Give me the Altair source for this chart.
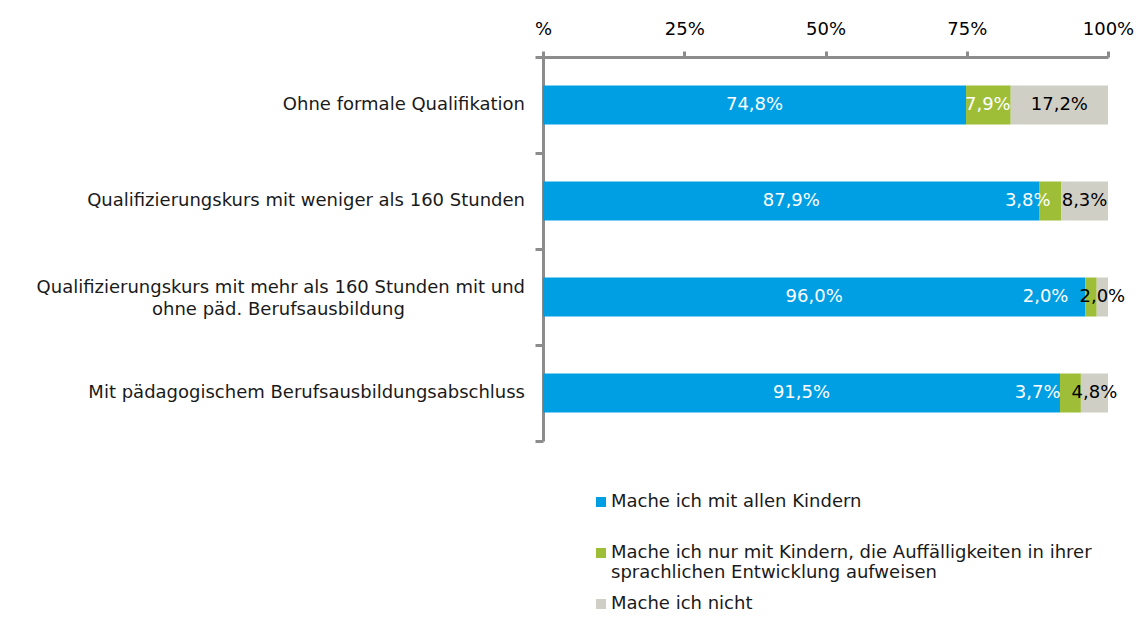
import json
import altair as alt
import pandas as pd

categories = [
    "Ohne formale Qualifikation",
    "Qualifizierungskurs mit weniger als 160 Stunden",
    "Qualifizierungskurs mit mehr  als 160 Stunden mit und|ohne päd. Berufsausbildung",
    "Mit pädagogischem Berufsausbildungsabschluss",
]
series = [
    "Mache ich mit allen Kindern",
    "Mache ich nur mit Kindern, die Auffälligkeiten in ihrer|sprachlichen Entwicklung aufweisen",
    "Mache ich nicht",
]
values_all = [74.8, 87.9, 96.0, 91.5]
values_some = [7.9, 3.8, 2.0, 3.7]
values_not = [17.2, 8.3, 2.0, 4.8]
colors = ["#009FE3", "#9DBE36", "#D0CFC6"]
x_tick_values = [0, 0.25, 0.5, 0.75, 1.0]
x_tick_labels = ["%", "25%", "50%", "75%", "100%"]

rows = []
for ci, cat in enumerate(categories):
    for si, vals in enumerate([values_all, values_some, values_not]):
        rows.append({"category": cat, "series": series[si], "order": si, "value": vals[ci]})
df = pd.DataFrame(rows)

FONT = "DejaVu Sans"
FS = 18
AXIS_GRAY = "#8C8C8C"
# non-breaking spaces closed by a zero-width space so they survive trimming:
# keeps the second line of the wrapped label centred under the first
LINE_PAD = "\u00a0" * 21 + "\u200b"

x_label_expr = f"{json.dumps(x_tick_labels)}[indexof({json.dumps(x_tick_values)}, datum.value)]"
legend_label_expr = "indexof(datum.label, '|') < 0 ? [datum.label, ''] : split(datum.label, '|')"

base = alt.Chart(df).transform_stack(
    stack="value",
    groupby=["category"],
    as_=["x0", "x1"],
    offset="normalize",
    sort=[alt.SortField("order", order="ascending")],
).transform_calculate(
    mid="(datum.x0 + datum.x1) / 2",
    green_end="min(datum.x1, (datum.x1 + 1) / 2 - 0.06)",
    lab="replace(format(datum.value, '.1f'), '.', ',') + '%'",
)

y_axis = alt.Axis(
    orient="left",
    tickBand="extent",
    tickSize=8,
    tickWidth=3,
    tickColor=AXIS_GRAY,
    domainColor=AXIS_GRAY,
    domainWidth=3,
    labels=False,
)

y_enc = alt.Y(
    "category:N",
    sort=categories,
    title=None,
    scale=alt.Scale(paddingInner=0, paddingOuter=0),
    axis=y_axis,
)

bars = base.mark_bar(size=39).encode(
    x=alt.X(
        "x0:Q",
        scale=alt.Scale(domain=[0, 1], nice=False, zero=True),
        title=None,
        axis=alt.Axis(
            orient="top",
            values=x_tick_values,
            labelExpr=x_label_expr,
            grid=False,
            tickSize=6,
            tickWidth=3,
            tickColor=AXIS_GRAY,
            domainColor=AXIS_GRAY,
            domainWidth=3,
            labelFont=FONT,
            labelFontSize=FS,
            labelColor="#000000",
            labelPadding=13,
            labelFlush=False,
        ),
    ),
    x2="x1:Q",
    y=y_enc,
    color=alt.Color(
        "series:N",
        sort=series,
        scale=alt.Scale(domain=series, range=colors),
        legend=alt.Legend(
            orient="none",
            legendX=49,
            legendY=436,
            direction="vertical",
            title=None,
            padding=0,
            symbolType="square",
            symbolSize=100,
            symbolStrokeWidth=0,
            labelFont=FONT,
            labelFontSize=FS,
            labelColor="#1a1a1a",
            labelLimit=0,
            labelOffset=1,
            rowPadding=13,
            labelExpr=legend_label_expr,
        ),
    ),
)

# category labels left of the axis
cat_base = base.transform_filter("datum.order == 0").transform_calculate(
    multi="indexof(datum.category, '|') >= 0",
)
cat_single = cat_base.transform_filter("!datum.multi").mark_text(
    font=FONT, fontSize=FS, align="right", baseline="middle", dx=-18, color="#1a1a1a"
).encode(
    x=alt.datum(0),
    y=alt.Y("category:N", sort=categories),
    text="category:N",
)
cat_multi = cat_base.transform_filter("datum.multi").transform_calculate(
    disp=f"datum.category + '{LINE_PAD}'"
).mark_text(
    font=FONT, fontSize=FS, align="right", baseline="line-bottom", lineHeight=22,
    lineBreak="|", dx=-18, dy=2, color="#1a1a1a"
).encode(
    x=alt.datum(0),
    y=alt.Y("category:N", sort=categories),
    text="disp:N",
)

text_center = base.transform_filter("datum.order != 1").mark_text(
    font=FONT, fontSize=FS, align="center", baseline="middle"
).encode(
    x="mid:Q",
    y=alt.Y("category:N", sort=categories),
    text="lab:N",
    color=alt.condition("datum.order == 2", alt.value("#000000"), alt.value("#FFFFFF")),
)

text_green = base.transform_filter("datum.order == 1").mark_text(
    font=FONT, fontSize=FS, align="right", baseline="middle"
).encode(
    x="green_end:Q",
    y=alt.Y("category:N", sort=categories),
    text="lab:N",
    color=alt.value("#FFFFFF"),
)

chart = alt.layer(bars, text_center, text_green, cat_single, cat_multi).properties(
    width=565,
    height=384,
    padding={"left": 535, "top": 49, "right": 26, "bottom": 173},
    autosize=alt.AutoSizeParams(type="none"),
).configure_view(stroke=None)

chart.save("out.html", embed_options={"renderer": "svg", "actions": False})
